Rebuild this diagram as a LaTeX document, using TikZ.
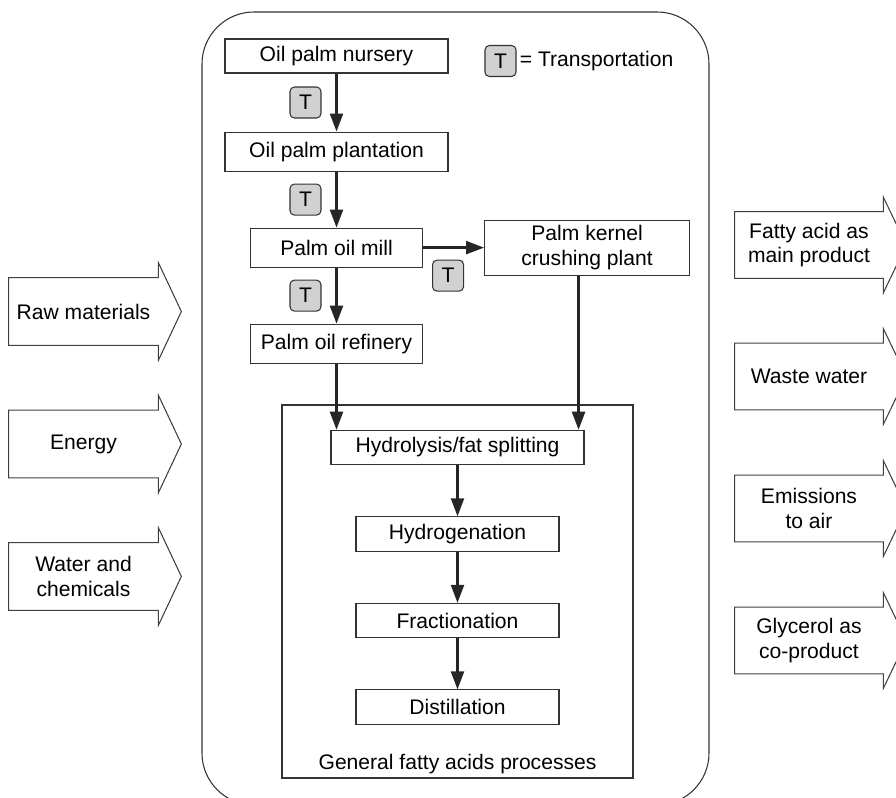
\documentclass[tikz,border=0pt]{standalone}
\usepackage{fontspec}
\setmainfont{Liberation Sans}
\usetikzlibrary{arrows.meta,positioning}

\begin{document}
\begin{tikzpicture}[x=0.2mm, y=-0.2mm, font=\fontsize{12}{14}\selectfont, node distance=11.2mm,
 >={Triangle[length=3.6mm,width=2.6mm]},
 box/.style={draw=black!80, line width=.6pt, align=center, minimum width=44.6mm, minimum height=7.8mm, inner sep=2pt},
 proc/.style={box, minimum width=40.6mm, minimum height=6.9mm},
 tbox/.style={draw=black!80, line width=.6pt, rounded corners=2.5pt, fill=black!18, minimum size=6.2mm, inner sep=0pt},
 flowbody/.style={align=center, minimum width=29.8mm, minimum height=13.4mm, inner sep=0pt},
 bigarrow/.style={draw=black!75, line width=.6pt, line join=miter},
 line/.style={->, line width=1.3pt, draw=black!85}]
\useasboundingbox (0,0) rectangle (896,798);
% frames
\node[draw=black!80, line width=.6pt, rounded corners=10.4mm, minimum width=101.4mm, minimum height=158.6mm] (frame) at (455.5,408.5) {};
\node[draw=black!80, line width=.6pt, minimum width=70.2mm, minimum height=74.6mm] (gen) at (457.5,591.5) {};
\node (genlbl) at (457.5,764) {General fatty acids processes};
% supply chain
\node[box, minimum height=6.8mm] (nurs) at (336.5,56) {Oil palm nursery};
\node[box, below=11.6mm of nurs] (plant) {Oil palm plantation};
\node[box, below=of plant, minimum width=34.4mm] (mill) {Palm oil mill};
\node[box, below=of mill, minimum width=34.4mm] (ref) {Palm oil refinery};
\node[box, right=12.2mm of mill, minimum width=41mm, minimum height=11mm] (kern) {Palm kernel\\crushing plant};
% legend
\node[tbox] (tkey) at (500.5,61) {T};
\node[right=0.6mm of tkey, inner sep=0pt] (tkeytxt) {= Transportation};
% fatty acid processes
\node[proc, minimum width=50.6mm] (hyd) at (457.5,447.5) {Hydrolysis/fat splitting};
\node[proc, below=10.2mm of hyd] (hgen) {Hydrogenation};
\node[proc, below=10.2mm of hgen] (frac) {Fractionation};
\node[proc, below=10.2mm of frac] (dist) {Distillation};
% connectors
\draw[line] (nurs) -- node[tbox, left=3mm] (t1) {T} (plant);
\draw[line] (plant) -- node[tbox, left=3mm] (t2) {T} (mill);
\draw[line] (mill) -- node[tbox, left=3mm] (t4) {T} (ref);
\draw[line] (mill) -- node[tbox, pos=.41, below=2.4mm] (t3) {T} (kern);
\draw[line] (ref) -- (ref |- hyd.north);
\draw[line] ([xshift=-1.7mm]kern.south) -- ([xshift=-1.7mm]kern.south |- hyd.north);
\draw[line] (hyd) -- (hgen);
\draw[line] (hgen) -- (frac);
\draw[line] (frac) -- (dist);
% inputs
\foreach \y/\txt [count=\i] in {311.5/Raw materials, 444/Energy, 576.5/{Water and\\chemicals}}{
  \node[flowbody] (in\i) at (83.5,\y) {\txt};
  \draw[bigarrow] (in\i.north west) -- (in\i.north east) -- ([yshift=3mm]in\i.north east) -- ([xshift=4.6mm]in\i.east)
    -- ([yshift=-3mm]in\i.south east) -- (in\i.south east) -- (in\i.south west) -- cycle;
}
% outputs
\foreach \y/\txt [count=\i] in {245/{Fatty acid as\\main product}, 376.5/Waste water, 508.5/{Emissions\\to air}, 640.5/{Glycerol as\\co-product}}{
  \node[flowbody, minimum width=29.6mm, minimum height=13.2mm] (out\i) at (809,\y) {\txt};
  \draw[bigarrow] (out\i.north west) -- (out\i.north east) -- ([yshift=2.9mm]out\i.north east) -- ([xshift=4.6mm]out\i.east)
    -- ([yshift=-2.9mm]out\i.south east) -- (out\i.south east) -- (out\i.south west) -- cycle;
}
\end{tikzpicture}
\end{document}
